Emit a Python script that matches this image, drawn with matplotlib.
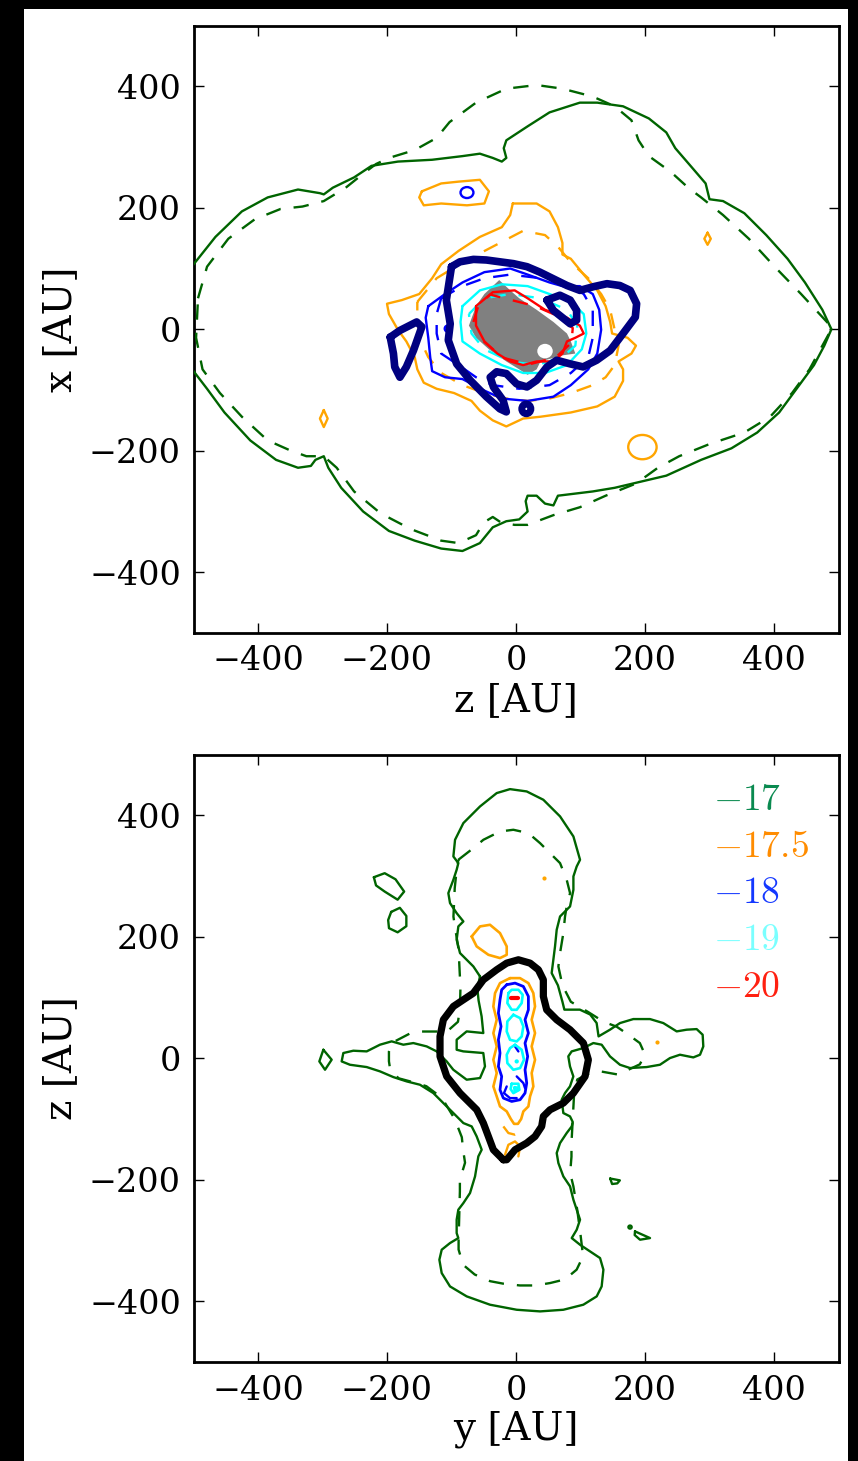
import numpy as np
import matplotlib
matplotlib.use("Agg")
import matplotlib.pyplot as plt
from matplotlib.patches import Rectangle, Ellipse

plt.rcParams["font.family"] = "DejaVu Serif"
plt.rcParams["mathtext.fontset"] = "cm"

# ---------------------------------------------------------------- levels
levels = ["$-17$", "$-17.5$", "$-18$", "$-19$", "$-20$"]
line_colors = ["#006400", "#ffa500", "#0000ff", "#00ffff", "#ff0000"]
label_colors = ["#0a8a50", "#ff8c00", "#1438ff", "#7affff", "#ff2010"]
ticks = [-400, -200, 0, 200, 400]
tick_labels = ["\u2212400", "\u2212200", "0", "200", "400"]

# ---------------------------------------------------------------- x-z plane contours [AU]
xz_green_solid = [(-505, 100), (-466, 152), (-425, 194), (-385, 217), (-338, 230), (-304, 224),
                  (-298, 222), (-284, 233), (-251, 250), (-224, 269), (-183, 276), (-130, 279),
                  (-83, 285), (-56, 289), (-36, 282), (-22, 276), (-15, 282), (-19, 298), (-15, 311),
                  (18, 334), (52, 357), (99, 373), (126, 373), (166, 367), (206, 347), (233, 324),
                  (247, 298), (273, 266), (294, 240), (300, 214), (321, 211), (354, 191), (388, 155),
                  (421, 116), (448, 77), (475, 32), (489, 0), (478, -27), (462, -59), (435, -98),
                  (408, -137), (374, -170), (334, -196), (287, -215), (233, -241), (153, -261),
                  (119, -267), (65, -274), (58, -290), (45, -287), (32, -274), (18, -274), (15, -283),
                  (18, -300), (5, -313), (-15, -316), (-36, -326), (-56, -352), (-83, -365),
                  (-116, -361), (-157, -348), (-197, -332), (-237, -300), (-271, -261), (-291, -228),
                  (-298, -209), (-311, -215), (-318, -225), (-338, -228), (-372, -215), (-412, -183),
                  (-452, -137), (-479, -98), (-505, -62)]
xz_green_dashed = [(-493, 51), (-479, 103), (-446, 149), (-405, 181), (-365, 198), (-331, 202),
                   (-298, 211), (-264, 233), (-237, 256), (-217, 272), (-197, 282), (-157, 295),
                   (-123, 315), (-103, 341), (-62, 373), (-15, 396), (32, 402), (72, 396), (119, 383),
                   (153, 367), (179, 344), (190, 311), (206, 285), (240, 259), (267, 233), (287, 217),
                   (321, 188), (361, 149), (401, 103), (442, 58), (482, 12), (489, 0), (475, -27),
                   (455, -66), (428, -105), (394, -144), (354, -170), (300, -189), (253, -209),
                   (220, -228), (186, -254), (139, -274), (99, -293), (58, -306), (18, -322), (-2, -322),
                   (-22, -319), (-36, -309), (-50, -318), (-62, -339), (-89, -352), (-116, -348),
                   (-163, -329), (-210, -303), (-251, -267), (-278, -228), (-298, -209), (-325, -209),
                   (-351, -199), (-385, -183), (-425, -144), (-459, -105), (-486, -66), (-496, -14)]
xz_orange_solid = [(-5, 207), (32, 207), (52, 194), (65, 168), (72, 142), (72, 123), (85, 116),
                   (105, 90), (126, 64), (139, 38), (146, 12), (149, -7), (173, -14), (186, -27),
                   (179, -40), (159, -53), (166, -66), (166, -85), (153, -111), (126, -127), (85, -137),
                   (38, -144), (11, -147), (-15, -160), (-36, -150), (-56, -134), (-69, -118),
                   (-96, -105), (-123, -98), (-143, -88), (-153, -66), (-157, -46), (-170, -20),
                   (-183, -1), (-197, 25), (-200, 42), (-177, 48), (-150, 58), (-130, 84), (-116, 107),
                   (-89, 129), (-56, 152), (-22, 168), (-9, 188)]
xz_orange_blob = [(-146, 227), (-116, 240), (-89, 243), (-56, 246), (-42, 227), (-49, 207),
                  (-76, 204), (-116, 207), (-143, 204), (-150, 217)]
xz_orange_spot_right = [(297, 159), (302, 149), (297, 139), (292, 149)]
xz_orange_spot_left = [(-298, -133), (-292, -147), (-298, -161), (-304, -147)]
xz_orange_ring = (196, -194, 44, 40)  # centre z, centre x, width, height
xz_orange_dashed = [(-153, 45), (-123, 84), (-83, 110), (-36, 136), (11, 162), (45, 155), (65, 136),
                    (85, 110), (112, 84), (132, 58), (146, 32), (153, -1), (159, -27), (153, -59),
                    (139, -79), (119, -92), (85, -105), (52, -114), (18, -118), (-15, -114),
                    (-49, -105), (-83, -92), (-116, -72), (-136, -46), (-150, -14), (-153, 19)]
xz_blue_solid = [(-136, 38), (-110, 58), (-83, 77), (-49, 94), (-9, 100), (18, 90), (52, 77),
                 (72, 71), (99, 71), (119, 58), (129, 32), (132, -1), (126, -40), (112, -66),
                 (85, -92), (58, -111), (18, -118), (-22, -114), (-49, -101), (-83, -82), (-110, -79),
                 (-130, -69), (-133, -46), (-136, -14), (-140, 19)]
xz_blue_spot = (-76, 225, 20, 18)
xz_blue_tiny = (-106, 1, 9, 10)
xz_blue_dashed = [(-116, 51), (-83, 71), (-49, 84), (-9, 90), (38, 84), (72, 77), (105, 58),
                  (119, 32), (119, -14), (112, -46), (85, -72), (52, -92), (5, -98), (-36, -92),
                  (-62, -79), (-89, -59), (-116, -40), (-123, -7), (-123, 25)]
xz_cyan_solid = [(-83, 38), (-56, 64), (-22, 74), (18, 71), (52, 58), (85, 45), (105, 25), (109, -7),
                 (102, -33), (79, -59), (45, -72), (11, -72), (-22, -59), (-56, -40), (-83, -20),
                 (-86, 12)]
xz_cyan_dashed = [(-73, 25), (-49, 51), (-9, 58), (38, 51), (79, 32), (95, 6), (92, -27), (72, -46),
                  (32, -59), (-9, -53), (-49, -33), (-69, -7)]
xz_red_solid = [(-62, 38), (-36, 61), (-2, 64), (18, 51), (45, 32), (79, 19), (99, 6), (105, -7),
                (92, -14), (79, -20), (72, -40), (58, -53), (32, -53), (11, -59), (-9, -53),
                (-29, -40), (-49, -20), (-62, 6)]
xz_red_dashed = [(-66, 12), (-58, 40), (-40, 57), (30, 38), (60, 24), (88, 2), (86, -22), (62, -46),
                 (20, -58), (-20, -47), (-50, -20)]
xz_core = [(-26, 81), (-9, 64), (5, 51), (32, 32), (58, 12), (79, -7), (85, -20), (92, -40),
           (72, -43), (38, -53), (32, -66), (18, -75), (5, -66), (-15, -53), (-42, -33), (-62, -14),
           (-73, 6), (-62, 38), (-49, 58), (-36, 71)]
xz_core_hole = (45, -36, 24, 24)
xz_navy_main = [(-100, 103), (-108, 48), (-102, 9), (-105, -18), (-92, -57), (-71, -84), (-46, -111),
                (-25, -131), (-15, -136), (-20, -117), (-35, -95), (-40, -79), (-30, -70), (-15, -73),
                (1, -90), (17, -95), (32, -84), (48, -62), (63, -51), (84, -57), (104, -62), (125, -51),
                (146, -35), (166, -7), (185, 20), (187, 42), (177, 64), (161, 72), (141, 75), (120, 70),
                (99, 64), (79, 72), (58, 83), (37, 94), (17, 103), (-4, 108), (-25, 111), (-46, 114),
                (-66, 115), (-87, 111)]
xz_navy_island = [(-195, -13), (-180, -2), (-154, 12), (-146, 4), (-159, -35), (-170, -62),
                  (-180, -79), (-188, -62), (-190, -40)]
xz_navy_loop = [(48, 48), (68, 56), (84, 48), (94, 31), (94, 15), (84, 9), (71, 20), (58, 31)]
xz_navy_dot = (16, -131, 14, 16)

# ---------------------------------------------------------------- y-z plane contours [AU]
yz_green_solid = [(-55.8, 134.7), (-66.1, 151.1), (-86.8, 173.1), (-92, 195), (-89.4, 217),
                  (-81.6, 225.2), (-92, 238.9), (-102.3, 255.4), (-104.9, 271.8), (-97.1, 293.8),
                  (-92, 310.3), (-89.4, 321.2), (-97.1, 332.2), (-94.5, 359.6), (-81.6, 387.1),
                  (-55.8, 414.5), (-29.9, 436.5), (-9.3, 443.0), (16.6, 439.2), (42.4, 425.5),
                  (68.3, 398.1), (89, 365.1), (99.3, 326.7), (94.1, 315.7), (89, 299.3), (89, 277.3),
                  (83.8, 249.9), (68.3, 233.4), (63.1, 211.5), (60.5, 184.1), (57.9, 162.1),
                  (55.3, 140.2), (65, 120), (72, 93), (75, 80), (99, 80), (115, 72), (125, 58),
                  (128, 36), (145.7, 47), (161.2, 57.9), (181.9, 64.5), (207.7, 64.5), (228.4, 57.9),
                  (249.1, 44.2), (264.6, 47), (280.1, 48), (289.4, 38.7), (290.4, 19.5), (285.3, 5.8),
                  (274.9, 1.4), (254.2, 5.8), (238.7, 0.3), (223.2, -10.7), (202.6, -14.5),
                  (176.7, -16.1), (161.2, -10.7), (145.7, 3.1), (132.8, 22.3), (119.9, 25),
                  (104.4, 16.8), (86.3, 11.3), (81.1, 3.1), (83.7, -13.4), (88.9, -29.9),
                  (83.7, -46.3), (76, -57.3), (70.8, -68.3), (73.4, -90.2), (83.7, -95.7), (88, -105),
                  (86.4, -112.2), (78.6, -123.1), (68.3, -139.6), (63.1, -156.1), (65.7, -172.5),
                  (73.4, -194.5), (83.8, -210.9), (89, -232.9), (94.1, -249.3), (99.3, -265.8),
                  (94.1, -282.3), (86.4, -296), (99.3, -307), (114.8, -317.9), (130.3, -328.9),
                  (135.5, -348.1), (132.8, -375.6), (125.1, -392), (104.4, -405.7), (73.4, -414),
                  (37.3, -416.7), (1.1, -414), (-40.3, -405.7), (-76.4, -392), (-102.3, -375.6),
                  (-115.2, -353.6), (-118.8, -331.7), (-115.2, -315.2), (-102.3, -304.2),
                  (-89.4, -296), (-92, -287.8), (-92, -265.8), (-89.4, -249.3), (-81.6, -238.4),
                  (-71.3, -221.9), (-63.5, -194.5), (-58.4, -161.6), (-53.2, -150.6), (-61, -128.6),
                  (-68.7, -112.2), (-81.6, -106.7), (-92, -95.7), (-112.7, -73.8), (-128.2, -57.3),
                  (-148.9, -43.6), (-169.5, -38.1), (-190.2, -31), (-210.9, -21.6), (-231.5, -14.5),
                  (-257.4, -10.7), (-270.3, -5.2), (-267.7, 8.6), (-252.2, 12.4), (-231.5, 11.3),
                  (-210.9, 22.3), (-192.8, 27.8), (-174.7, 22.3), (-159.2, 25), (-138.5, 19.5),
                  (-123, 11.3), (-107.5, -5.2), (-97.2, -18.9), (-76.5, -35.3), (-55.8, -32.6),
                  (-48.1, -13.4), (-50.7, 8.6), (-81.7, 11.3), (-92, 14), (-92, 30.5), (-76.5, 44.2),
                  (-50.7, 41.5), (-53.3, 68.9), (-58, 95), (-60, 115)]
yz_green_dashed = [(-89.4, 326.7), (-66.1, 345.9), (-50.6, 359.6), (-24.8, 373.3), (-4.1, 376.1),
                   (19.2, 370.6), (37.3, 354.1), (57.9, 332.2), (68.3, 321.2), (78.6, 293.8),
                   (83.8, 271.8), (78.6, 249.9), (76, 233.4), (73.4, 206), (68.3, 173.1),
                   (65.7, 151.1), (72, 120), (85, 93), (112, 76), (136, 60), (156, 52), (174, 39),
                   (192, 25), (200, 6), (192, -10), (174, -19), (159, -27), (133, -22), (115, -24),
                   (95, -35), (90, -60), (88, -100), (86, -140), (86, -162), (84, -189), (89, -211),
                   (95, -250), (100, -290), (104, -326), (94, -348), (76, -364), (53, -370),
                   (30, -374), (6, -374), (-20, -371), (-40, -367), (-64, -356), (-82, -340),
                   (-89, -315), (-89, -299), (-88, -260), (-87, -219), (-87, -200), (-79, -172),
                   (-82, -151), (-84, -130), (-95, -100), (-115, -65), (-139, -46), (-154, -41),
                   (-182, -33), (-195, -19), (-197, -5), (-197, 11), (-193, 25), (-164, 41),
                   (-146, 44), (-107, 44), (-90, 60), (-87, 80), (-86, 120), (-87, 135), (-89, 179),
                   (-94, 212), (-97, 233), (-95, 280), (-92, 310)]
yz_green_island_a = [(-220.4, 298), (-203.6, 304.6), (-186.8, 294.6), (-173.4, 274.4),
                     (-183.5, 261), (-203.6, 274.4), (-217, 284.5)]
yz_green_island_b = [(-193.5, 240.9), (-180.1, 247.6), (-170, 234.2), (-170, 217.4),
                     (-183.5, 207.3), (-196.9, 214.1), (-198.2, 227.5)]
yz_green_island_c = [(-298.7, 14), (-285.8, -2.4), (-296.1, -18.9), (-304.9, -5.2)]
yz_green_island_d = [(146, -198), (161, -201), (157, -206), (149, -207)]
yz_green_island_e = [(184.5, -285), (207.8, -296), (192.3, -298.7), (184, -291)]
yz_green_dot = (176.8, -277.9, 5, 5)

yz_orange_column = [(-9.3, 131.9), (6.2, 131.9), (19.2, 123.7), (26.9, 107.2), (29.5, 85.3),
                    (24.3, 63.4), (29.5, 41.4), (24.3, 19.5), (29.5, -2.5), (24.3, -24.4),
                    (26.9, -46.4), (21.8, -62.8), (19.2, -79.3), (11.4, -87.5), (8, -100),
                    (3, -108), (-3, -108), (-8, -100), (-14.4, -87.5), (-24.8, -79.3), (-29.9, -62.8),
                    (-35.1, -46.4), (-29.9, -24.4), (-35.1, -2.5), (-29.9, 19.5), (-35.1, 41.4),
                    (-29.9, 63.4), (-35.1, 85.3), (-32.5, 107.2), (-24.8, 123.7)]
yz_orange_blob = [(-68.7, 200.5), (-55.8, 217), (-40.3, 219.7), (-24.8, 206), (-14.4, 184.1),
                  (-14.4, 170.3), (-24.8, 164.9), (-42.8, 170.3), (-61, 184.1)]
yz_orange_dashed = [(-19.6, -112.2), (-11.8, -123.1), (-1.5, -125.9), (14, -120.4)]
yz_orange_arc = [(-17, -158.8), (-11.8, -142.4), (-1.5, -136.9), (6.3, -145.1), (3.7, -161.6)]
yz_orange_dots = [(43.5, 297.1), (219.1, 26.1)]

yz_blue_column = [(-14.4, 121), (-1.5, 123.7), (11.4, 118.2), (19.2, 101.8), (19.2, 79.8),
                  (14, 63.4), (19.2, 41.4), (14, 24.9), (18.1, 3), (14, -19), (16.6, -40.9),
                  (14, -57.4), (6.3, -68.3), (-6.7, -71.1), (-19.6, -65.6), (-24.8, -51.9),
                  (-22.2, -29.9), (-27.3, -13.5), (-24.8, 8.5), (-27.3, 30.4), (-23.2, 52.4),
                  (-27.3, 74.3), (-24.8, 96.3), (-22.2, 112.7)]
yz_blue_arc_a = [(-1.5, 19.5), (3.7, 11.2)]
yz_blue_arc_b = [(1.1, -29.9), (11.4, -40.9), (14, -49.1)]
yz_blue_arc_c = [(-14.4, -46.4), (-18.6, -57.4), (-9.3, -65.6), (1.1, -65.6)]

yz_cyan_loop_a = [(-11.8, 107.2), (-6.7, 112.7), (3.7, 112.7), (10.4, 104.5), (8.8, 90.8),
                  (1.1, 79.8), (-6.7, 79.8), (-13.4, 90.8)]
yz_cyan_loop_b = [(-4.1, 71.6), (6.3, 66.1), (11.4, 52.4), (8.8, 35.9), (1.1, 27.7), (-9.3, 30.4),
                  (-14.4, 44.2), (-13.4, 60.6)]
yz_cyan_loop_c = [(-1.5, 22.2), (8.8, 14), (12.4, -2.5), (6.3, -16.2), (-4.1, -19), (-13.4, -8),
                  (-14.4, 5.7), (-9.3, 16.7)]
yz_cyan_loop_d = [(-6.7, -42), (3.7, -42), (5.2, -51.9), (-4.1, -57.4), (-8.3, -50.8)]
yz_cyan_loop_e = [(-3, -47), (2, -47), (2, -52), (-3, -52)]
yz_cyan_dot = (1.1, -5.2, 3, 3)

yz_red_segment = [(-7.7, 99), (3.7, 99)]

yz_black = [(-19.6, -167.1), (-35.1, -150.6), (-42.8, -128.7), (-50.6, -106.7), (-60.9, -84.8),
            (-86.8, -57.4), (-107.4, -29.9), (-117.8, 3), (-117.8, 35.9), (-112.6, 63.4),
            (-97.1, 85.3), (-81.6, 96.3), (-66.1, 107.2), (-50.6, 129.2), (-29.9, 145.7),
            (-14.4, 156.6), (3.7, 162.1), (21.8, 156.6), (34.7, 145.7), (42.4, 129.2),
            (42.4, 101.8), (47.6, 79.8), (63.1, 63.4), (83.8, 46.9), (104.5, 25), (112.2, -2.5),
            (107.1, -29.9), (89, -57.4), (73.4, -73.8), (52.8, -84.8), (42.4, -95.7),
            (39.8, -112.2), (29.5, -128.7), (16.6, -139.6), (-1.5, -150.6), (-14.4, -167.1)]

DASH = (0, (6.5, 5.5))


def trace(ax, pts, color, lw=1.7, ls="-", closed=True, z=3):
    arr = np.asarray(pts, dtype=float)
    if closed:
        arr = np.vstack([arr, arr[:1]])
    ax.plot(arr[:, 0], arr[:, 1], color=color, lw=lw, ls=ls, zorder=z,
            solid_joinstyle="round", solid_capstyle="round", dash_joinstyle="round")


def ring(ax, spec, color, lw=1.7, z=3, fill=False):
    cx, cy, w, h = spec
    ax.add_patch(Ellipse((cx, cy), w, h, facecolor=color if fill else "none",
                         edgecolor=color, lw=lw, zorder=z))


def style(ax, xlabel, ylabel):
    ax.set_xlim(-500, 500)
    ax.set_ylim(-500, 500)
    ax.set_xticks(ticks)
    ax.set_xticklabels(tick_labels)
    ax.set_yticks(ticks)
    ax.set_yticklabels(tick_labels)
    ax.tick_params(direction="in", length=7, width=1, top=True, right=True,
                   labelsize=24, pad=9)
    for sp in ax.spines.values():
        sp.set_linewidth(2)
    ax.set_xlabel(xlabel, fontsize=28, labelpad=3)
    ax.set_ylabel(ylabel, fontsize=28, labelpad=7)


fig = plt.figure(figsize=(8.58, 14.61), dpi=100, facecolor="black")
fig.patches.append(Rectangle((24 / 858, 0), (848 - 24) / 858, 1 - 9 / 1461,
                             transform=fig.transFigure, facecolor="white",
                             edgecolor="none", zorder=-10))

ax1 = fig.add_axes([193.5 / 858, 1 - 633 / 1461, 645 / 858, 607.5 / 1461])
ax2 = fig.add_axes([193.5 / 858, 1 - 1362 / 1461, 645 / 858, 607.5 / 1461])

g, o, b, c, r = line_colors

# ---- x-z plane
ax1.fill(*np.asarray(xz_core).T, color="#808080", lw=0, zorder=1)
ring(ax1, xz_core_hole, "white", lw=0, z=1.5, fill=True)
trace(ax1, xz_green_solid, g, closed=False)
trace(ax1, xz_green_dashed, g, ls=DASH)
trace(ax1, xz_orange_solid, o)
trace(ax1, xz_orange_blob, o)
trace(ax1, xz_orange_spot_right, o)
trace(ax1, xz_orange_spot_left, o)
ring(ax1, xz_orange_ring, o)
trace(ax1, xz_orange_dashed, o, ls=DASH)
trace(ax1, xz_blue_solid, b)
ring(ax1, xz_blue_spot, b)
ring(ax1, xz_blue_tiny, b)
trace(ax1, xz_blue_dashed, b, ls=DASH)
trace(ax1, xz_cyan_solid, c)
trace(ax1, xz_cyan_dashed, c, ls=DASH)
trace(ax1, xz_red_solid, r)
trace(ax1, xz_red_dashed, r, ls=DASH, closed=False)
trace(ax1, xz_navy_main, "#000080", lw=5.5, z=4)
trace(ax1, xz_navy_island, "#000080", lw=5.5, z=4)
trace(ax1, xz_navy_loop, "#000080", lw=5.5, z=4)
ring(ax1, xz_navy_dot, "#000080", lw=5, z=4)
style(ax1, "z [AU]", "x [AU]")

# ---- y-z plane
trace(ax2, yz_green_solid, g)
trace(ax2, yz_green_dashed, g, ls=DASH)
for isl in (yz_green_island_a, yz_green_island_b, yz_green_island_c,
            yz_green_island_d, yz_green_island_e):
    trace(ax2, isl, g)
ring(ax2, yz_green_dot, g)
trace(ax2, yz_orange_column, o, lw=1.9)
trace(ax2, yz_orange_blob, o, lw=1.9)
trace(ax2, yz_orange_dashed, o, ls=DASH, closed=False)
trace(ax2, yz_orange_arc, o, closed=False)
dots = np.asarray(yz_orange_dots)
ax2.plot(dots[:, 0], dots[:, 1], "o", color=o, ms=3, mec="none", zorder=3)
trace(ax2, yz_blue_column, b, lw=2)
trace(ax2, yz_blue_arc_a, b, closed=False)
trace(ax2, yz_blue_arc_b, b, closed=False)
trace(ax2, yz_blue_arc_c, b, closed=False)
for loop in (yz_cyan_loop_a, yz_cyan_loop_b, yz_cyan_loop_c, yz_cyan_loop_d, yz_cyan_loop_e):
    trace(ax2, loop, c, lw=1.9)
ring(ax2, yz_cyan_dot, c, fill=True)
trace(ax2, yz_red_segment, r, lw=3, closed=False)
trace(ax2, yz_black, "black", lw=5.2, z=4)
style(ax2, "y [AU]", "z [AU]")

for i, (txt, col) in enumerate(zip(levels, label_colors)):
    ax2.text(0.805, 0.9255 - i * 0.0770, txt, color=col, fontsize=27,
             transform=ax2.transAxes, ha="left", va="center")

fig.savefig("out.png", dpi=100, facecolor="black")
